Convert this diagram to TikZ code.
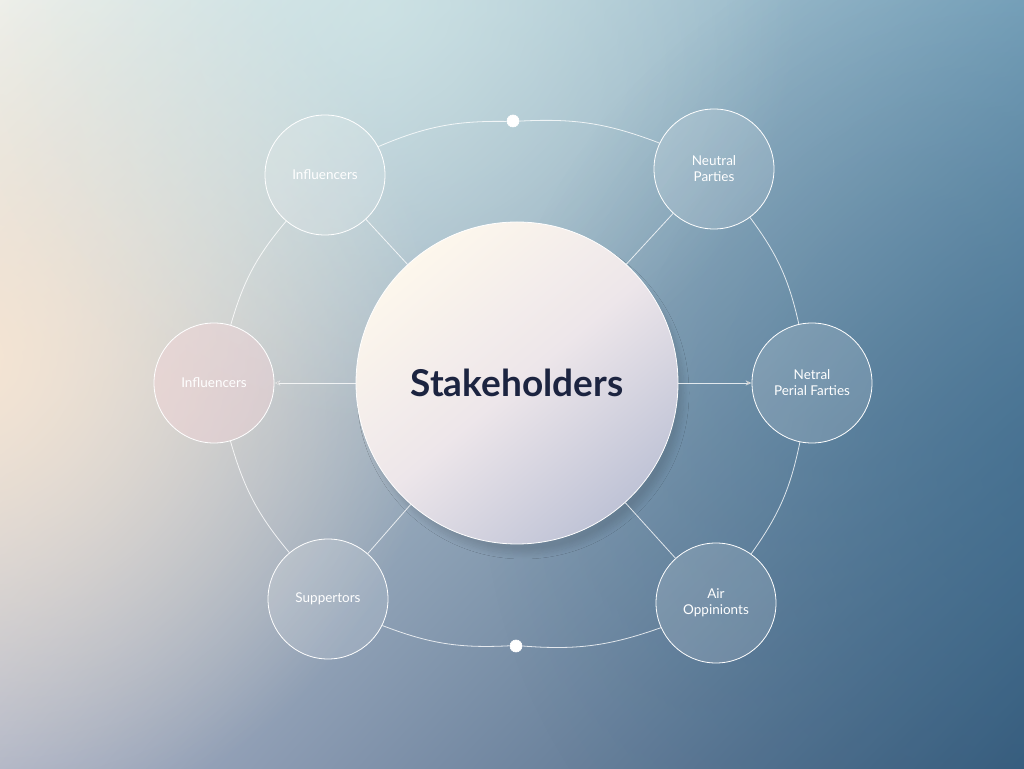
\documentclass[tikz,border=0pt]{standalone}
\usepackage{fontspec}
\setmainfont{Lato}
\usepackage{tikz}
\usetikzlibrary{positioning,shapes,shadings,arrows.meta,fadings,shadows.blur}
\def\rsat{120pt}
\def\rhub{322pt}
\definecolor{bgUL}{HTML}{EEF3F0}
\definecolor{bgUR}{HTML}{7AA4BC}
\definecolor{bgLL}{HTML}{AAB2C6}
\definecolor{bgLR}{HTML}{365A7A}
\definecolor{peach}{HTML}{F8E6D2}
\definecolor{mint}{HTML}{D3EAE9}
\definecolor{deep}{HTML}{3B6A8E}
\definecolor{hubTop}{HTML}{FDF7EC}
\definecolor{hubMid}{HTML}{EDE6EA}
\definecolor{hubBot}{HTML}{BFC3D6}
\definecolor{ink}{HTML}{1C2440}
\definecolor{blush}{HTML}{F2D3D7}
\tikzfading[name=glow, inner color=transparent!0, outer color=transparent!100]
\tikzstyle{party}=[circle,draw=white,line width=0.8pt,minimum size=\rsat,inner sep=0pt,
  align=center,fill=white,fill opacity=0.14,text opacity=1,text=white,
  font=\fontsize{13.5}{16}\selectfont]
\tikzstyle{hub}=[circle,draw=white,line width=0.8pt,minimum size=\rhub,inner sep=0pt,
  top color=hubTop,bottom color=hubBot,middle color=hubMid,shading angle=40,
  text=ink,font=\fontsize{37}{40}\selectfont\bfseries,
  blur shadow={shadow xshift=6pt,shadow yshift=-10pt,shadow opacity=12,shadow blur steps=12,shadow blur radius=5pt}]
\tikzstyle{orbit}=[draw=white,line width=0.8pt,draw opacity=0.8]
\tikzstyle{pin}=[circle,draw=white,fill=white,minimum size=12pt,inner sep=0pt]
\newcommand{\newParty}[4]{\node[party,#3](#1) at (#4){#2};}
\newcommand{\newLink}[3]{\path[orbit] (#1) edge [#3] (#2);}

\begin{document}
\begin{tikzpicture}[x=1pt,y=1pt,>={Stealth[length=6pt,width=5pt]},
  semithick  %background first, then the wheel
  ]
  \useasboundingbox (0,0) rectangle (1024,768);
  \begin{scope}
    \clip (0,0) rectangle (1024,768);
    \shade[upper left=bgUL,upper right=bgUR,lower left=bgLL,lower right=bgLR]
      (0,0) rectangle (1024,768);
    \fill[peach,path fading=glow,fill opacity=0.95] (-30,405) circle (470);
    \fill[mint,path fading=glow,fill opacity=0.6] (380,760) circle (420);
    \fill[deep,path fading=glow,fill opacity=0.45] (1040,300) circle (560);
  \end{scope}

  \node[hub](hub) at (517,385){Stakeholders};

  \newParty{infTop}{Influencers}{}{325,593}
  \newParty{neuTop}{Neutral\\Parties}{}{714,599}
  \newParty{infLeft}{Influencers}{fill=blush,fill opacity=0.45}{214,385}
  \newParty{neuRight}{Netral\\Perial Farties}{}{812,385}
  \newParty{sup}{Suppertors}{}{328,169}
  \newParty{air}{Air\\Oppinionts}{}{716,165}

  \node[pin](pinTop) at (513,647){};
  \node[pin](pinBot) at (516,122){};

  % outer ring
  \newLink{infTop}{pinTop}{bend left=12}
  \newLink{pinTop}{neuTop}{bend left=12}
  \newLink{neuTop}{neuRight}{bend left=12}
  \newLink{neuRight}{air}{bend left=12}
  \newLink{air}{pinBot}{bend left=12}
  \newLink{pinBot}{sup}{bend left=12}
  \newLink{sup}{infLeft}{bend left=12}
  \newLink{infLeft}{infTop}{bend left=12}

  % spokes
  \newLink{hub}{infTop}{}
  \newLink{hub}{neuTop}{}
  \newLink{hub}{sup}{}
  \newLink{hub}{air}{}
  \path[orbit,->] (hub) edge (infLeft);
  \path[orbit,->] (hub) edge (neuRight);
\end{tikzpicture}
\end{document}
